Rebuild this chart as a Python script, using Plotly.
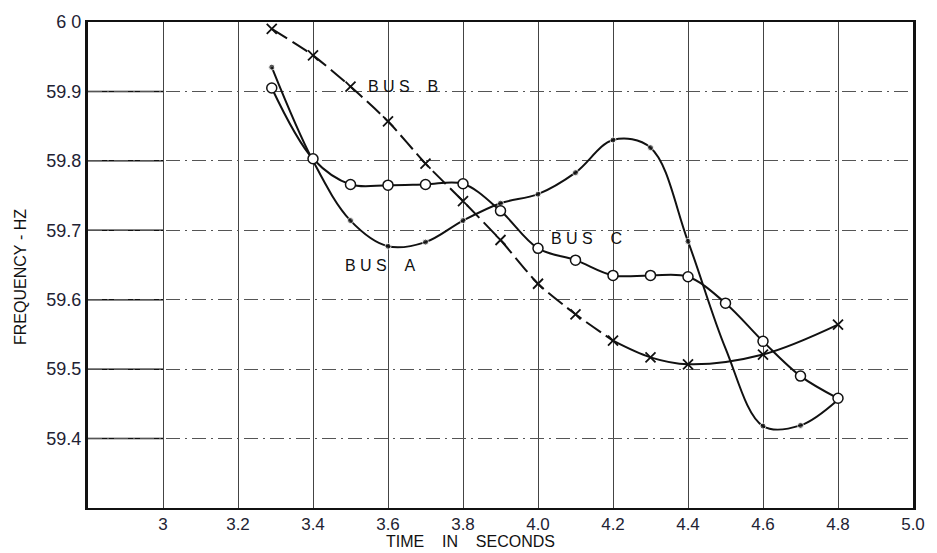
import plotly.graph_objects as go

# Time axis (seconds) and frequencies (Hz) for the three buses
t_bus_a = [3.29, 3.4, 3.5, 3.6, 3.7, 3.8, 3.9, 4.0, 4.1, 4.2, 4.3, 4.4, 4.5, 4.6, 4.7, 4.8]
f_bus_a = [59.935, 59.80, 59.714, 59.677, 59.683, 59.714, 59.739, 59.752, 59.783, 59.830,
           59.819, 59.684, 59.53, 59.418, 59.419, 59.456]
dot_a = [1, 0, 1, 1, 1, 1, 1, 1, 1, 1, 1, 1, 0, 1, 1, 0]

t_bus_b = [3.29, 3.4, 3.5, 3.6, 3.7, 3.8, 3.9, 4.0, 4.1, 4.2, 4.3, 4.4, 4.6, 4.8]
f_bus_b = [59.99, 59.952, 59.907, 59.857, 59.796, 59.742, 59.686, 59.623, 59.579, 59.541,
           59.517, 59.507, 59.521, 59.564]

t_bus_c = [3.29, 3.4, 3.5, 3.6, 3.7, 3.8, 3.9, 4.0, 4.1, 4.2, 4.3, 4.4, 4.5, 4.6, 4.7, 4.8]
f_bus_c = [59.905, 59.803, 59.766, 59.765, 59.766, 59.767, 59.728, 59.674, 59.657, 59.635,
           59.635, 59.633, 59.595, 59.540, 59.490, 59.458]

x_ticks = [3.0, 3.2, 3.4, 3.6, 3.8, 4.0, 4.2, 4.4, 4.6, 4.8, 5.0]
x_tick_text = ["3", "3.2", "3.4", "3.6", "3.8", "4.0", "4.2", "4.4", "4.6", "4.8", "5.0"]
y_ticks = [59.4, 59.5, 59.6, 59.7, 59.8, 59.9, 60.0]
y_tick_text = ["59.4", "59.5", "59.6", "59.7", "59.8", "59.9", "6 0"]

INK = "#111111"
TICK_INK = "#222233"
FONT = "Liberation Sans, Arial, sans-serif"
NB = "\u00a0"

fig = go.Figure()

# Bus A: solid curve with small filled dots
fig.add_trace(go.Scatter(
    x=t_bus_a, y=f_bus_a, mode="lines+markers",
    line=dict(color=INK, width=2, shape="spline", smoothing=1.0),
    marker=dict(size=[6 if d else 0 for d in dot_a], color=INK, symbol="circle"),
    showlegend=False, hoverinfo="skip"))

# Bus B: dashed in the falling part, solid afterwards, X markers
split = t_bus_b.index(4.2)
fig.add_trace(go.Scatter(
    x=t_bus_b[:split + 1], y=f_bus_b[:split + 1], mode="lines",
    line=dict(color=INK, width=2, dash="18px,6px", shape="spline", smoothing=0.6),
    showlegend=False, hoverinfo="skip"))
fig.add_trace(go.Scatter(
    x=t_bus_b[split:], y=f_bus_b[split:], mode="lines",
    line=dict(color=INK, width=2, shape="spline", smoothing=1.0),
    showlegend=False, hoverinfo="skip"))
fig.add_trace(go.Scatter(
    x=t_bus_b, y=f_bus_b, mode="markers",
    marker=dict(symbol="x-thin", size=10, line=dict(color=INK, width=1.8)),
    showlegend=False, hoverinfo="skip"))

# Bus C: solid curve with open circles
fig.add_trace(go.Scatter(
    x=t_bus_c, y=f_bus_c, mode="lines+markers",
    line=dict(color=INK, width=2, shape="spline", smoothing=1.0),
    marker=dict(symbol="circle", size=10, color="white", line=dict(color=INK, width=1.5)),
    showlegend=False, hoverinfo="skip"))

# Curve labels
labels = [("B" + NB + "U" + NB + "S" + NB * 4 + "B", 3.64, 59.907),
          ("B" + NB + "U" + NB + "S" + NB * 4 + "A", 3.58, 59.649),
          ("B" + NB + "U" + NB + "S" + NB * 4 + "C", 4.13, 59.688)]
for txt, lx, ly in labels:
    fig.add_annotation(x=lx, y=ly, text=txt, showarrow=False, xanchor="center", yanchor="middle",
                       font=dict(family=FONT, size=16, color=INK))

# Solid tick stubs on the left margin of the grid
for yv in y_ticks[:-1]:
    fig.add_shape(type="line", xref="x", yref="y", x0=2.8, x1=3.0, y0=yv, y1=yv,
                  line=dict(color=INK, width=1.5), layer="below")

# Axis titles
fig.add_annotation(xref="paper", yref="paper", x=0.464, y=-0.069, xanchor="center", yanchor="middle",
                   text="TIME" + NB * 4 + "IN" + NB * 4 + "SECONDS",
                   showarrow=False, font=dict(family=FONT, size=16, color=INK))
fig.add_annotation(xref="paper", yref="paper", x=-0.082, y=0.476, xanchor="center", yanchor="middle",
                   text="FREQUENCY" + NB + "-" + NB + "HZ",
                   textangle=-90, showarrow=False, font=dict(family=FONT, size=16, color=INK))

fig.update_xaxes(range=[2.8, 5.0], tickvals=x_ticks, ticktext=x_tick_text,
                 showgrid=True, gridcolor="#444444", gridwidth=1, griddash="solid",
                 zeroline=False, showline=True, linecolor=INK, linewidth=2, mirror=True,
                 ticks="", tickfont=dict(family=FONT, size=17, color=TICK_INK))
fig.update_yaxes(range=[59.3, 60.0], tickvals=y_ticks, ticktext=y_tick_text,
                 showgrid=True, gridcolor="#555555", gridwidth=1, griddash="14px,5px,2px,5px",
                 zeroline=False, showline=True, linecolor=INK, linewidth=3, mirror=True,
                 ticks="", tickfont=dict(family=FONT, size=18, color=TICK_INK))

fig.update_layout(width=937, height=553, margin=dict(l=88, r=20, t=13, b=45),
                  plot_bgcolor="white", paper_bgcolor="white")

fig.write_html("out.html")
